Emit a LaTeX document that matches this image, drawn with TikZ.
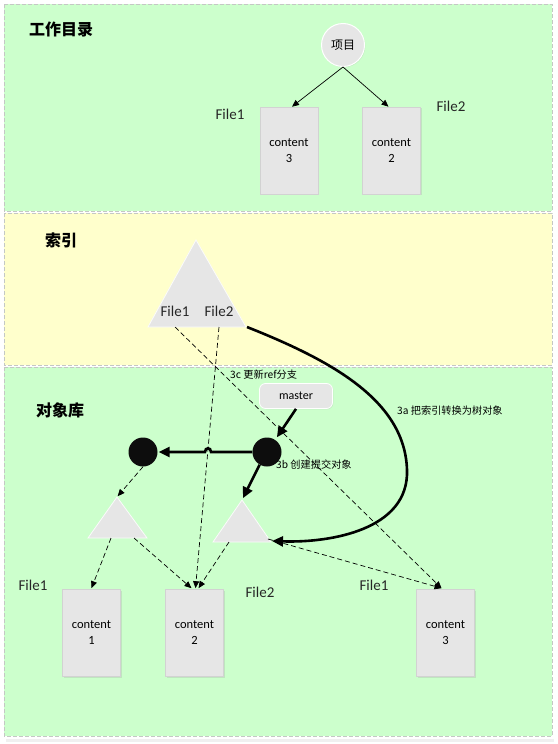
\documentclass[tikz,border=0pt]{standalone}
\usepackage{fontspec}
\setmainfont{Carlito}
\newfontfamily\cjk{Noto Sans CJK SC}
\usetikzlibrary{arrows.meta,shadows,calc}
\definecolor{pgreen}{HTML}{CCFFCC}
\definecolor{pyellow}{HTML}{FFFFCC}
\definecolor{pborder}{HTML}{C4C8C4}
\definecolor{shapefill}{HTML}{E6E6E6}
\definecolor{rectborder}{HTML}{D2D2D2}
\begin{document}
\begin{tikzpicture}[x=1pt,y=-1pt,
  panel/.style={draw=pborder, dash pattern=on 4pt off 2pt, line width=0.9pt},
  title/.style={font=\cjk\bfseries\fontsize{16}{18}\selectfont, inner sep=0pt},
  flabel/.style={font=\fontsize{15}{17}\selectfont, text=black!85, inner sep=0pt},
  slabel/.style={font=\cjk\fontsize{10.2}{12}\selectfont, inner sep=0pt},
  contentbox/.style={draw=rectborder, line width=0.6pt, fill=shapefill, minimum width=58pt, minimum height=87pt,
     inner sep=0pt, align=center, font=\fontsize{12.5}{16}\selectfont,
     drop shadow={shadow xshift=1pt, shadow yshift=-1pt, opacity=0.25, fill=black!40}},
  tri/.style={fill=shapefill, draw=white!85!shapefill, line width=0.8pt},
  blackdot/.style={circle, fill=black!95, minimum size=29pt, inner sep=0pt},
  thinarrow/.style={-{Triangle[length=7pt,width=6pt]}, line width=0.7pt},
  dasharrow/.style={thinarrow, dash pattern=on 5pt off 3pt},
  thickarrow/.style={-{Triangle[length=11pt,width=10pt]}, line width=2.6pt}
]
\useasboundingbox (0,0) rectangle (557,744);
\fill[white] (0,0) rectangle (557,744);

% panels
\fill[black!6] (6,739) rectangle (554,742);
\draw[panel, fill=pgreen] (4,4) rectangle (552,211);
\draw[panel, fill=pyellow] (4,213) rectangle (552,365);
\draw[panel, fill=pgreen] (4,367) rectangle (552,736);

\node[title] (t1) at (61,29) {工作目录};
\node[title] (t2) at (61,240) {索引};
\node[title] (t3) at (60,410) {对象库};

% working directory
\node[circle, fill=shapefill, draw=white, line width=1pt, minimum size=43pt, inner sep=0pt,
      font=\cjk\fontsize{12}{14}\selectfont,
      drop shadow={shadow xshift=0.8pt, shadow yshift=-0.8pt, opacity=0.2, fill=black!40}] (proj) at (343,45) {项目};
\node[contentbox] (wc3) at (289,150.5) {content\\3};
\node[contentbox] (wc2) at (391.5,150.5) {content\\2};
\node[flabel] (wf1) at (230,114) {File1};
\node[flabel] (wf2) at (451,106) {File2};
\draw[thinarrow] (proj.south) -- ($(wc3.north)+(3,0)$);
\draw[thinarrow] (proj.south) -- ($(wc2.north)+(-3,0)$);

% index
\path[tri] (196,240) -- (246,327) -- (148,327) -- cycle;
\node[flabel] (if1) at (175,311) {File1};
\node[flabel] (if2) at (219,311) {File2};
\coordinate (idxF1) at (175,327);
\coordinate (idxF2) at (219,327);
\coordinate (idxR) at (247,327);

% object store
\node[contentbox] (oc1) at (91.5,633) {content\\1};
\node[contentbox] (oc2) at (194.5,633) {content\\2};
\node[contentbox] (oc3) at (445.5,633) {content\\3};
\node[flabel] (of1) at (33,585) {File1};
\node[flabel] (of2) at (260,592) {File2};
\node[flabel] (of3) at (374,585) {File1};

\path[tri] (117,497) -- (147,538) -- (88,538) -- cycle;
\path[tri] (242,500) -- (271,542) -- (213,542) -- cycle;
\coordinate (tLtop) at (117,497);
\coordinate (tRtop) at (242,500);
\coordinate (tLb1) at (111,538);
\coordinate (tLb2) at (134,538);
\coordinate (tRb1) at (229,542);
\coordinate (tRb2) at (268,539);
\coordinate (tRarr) at (272,541);

\node[blackdot] (cL) at (143,452) {};
\node[blackdot] (cR) at (267,452) {};
\node[draw=white, line width=0.8pt, fill=shapefill, rounded corners=6pt, minimum width=73pt, minimum height=25pt,
      inner sep=0pt, font=\fontsize{12}{14}\selectfont,
      drop shadow={shadow xshift=0.8pt, shadow yshift=-0.8pt, opacity=0.2, fill=black!40}] (master) at (296,396) {master};

\node[slabel, anchor=west] (l3c) at (230,375) {3c 更新ref分支};
\node[slabel, anchor=west] (l3a) at (397,411) {3a 把索引转换为树对象};
\node[slabel, anchor=west] (l3b) at (276,465) {3b 创建提交对象};

% dashed connectors
\draw[dasharrow] (idxF1) -- ($(oc3.north)+(-4,-1)$);
\draw[dasharrow] (idxF2) -- ($(oc2.north)+(1,-1)$);
\draw[dasharrow] (tLb1) -- ($(oc1.north)+(0,-1)$);
\draw[dasharrow] (tLb2) -- ($(oc2.north)+(-3,-1)$);
\draw[dasharrow] (tRb1) -- ($(oc2.north)+(4,-1)$);
\draw[dasharrow] (tRb2) -- ($(oc3.north)+(-4,-1)$);
\draw[dasharrow, shorten >=1pt] (cL.south) -- (tLtop);

% thick connectors
\draw[thickarrow] (idxR) .. controls (330,360) and (405,400) .. (407,470)
   .. controls (409,530) and (330,543) .. (tRarr);
\draw[thickarrow, shorten >=3pt] (master.south) -- (cR);
\draw[thickarrow, shorten >=2pt] (cR.240) -- (tRtop);
\draw[thickarrow, shorten >=1pt] (cR.west) -- (211,452) .. controls (211,447) and (205,447) .. (205,452) -- (cL.east);
\end{tikzpicture}
\end{document}
